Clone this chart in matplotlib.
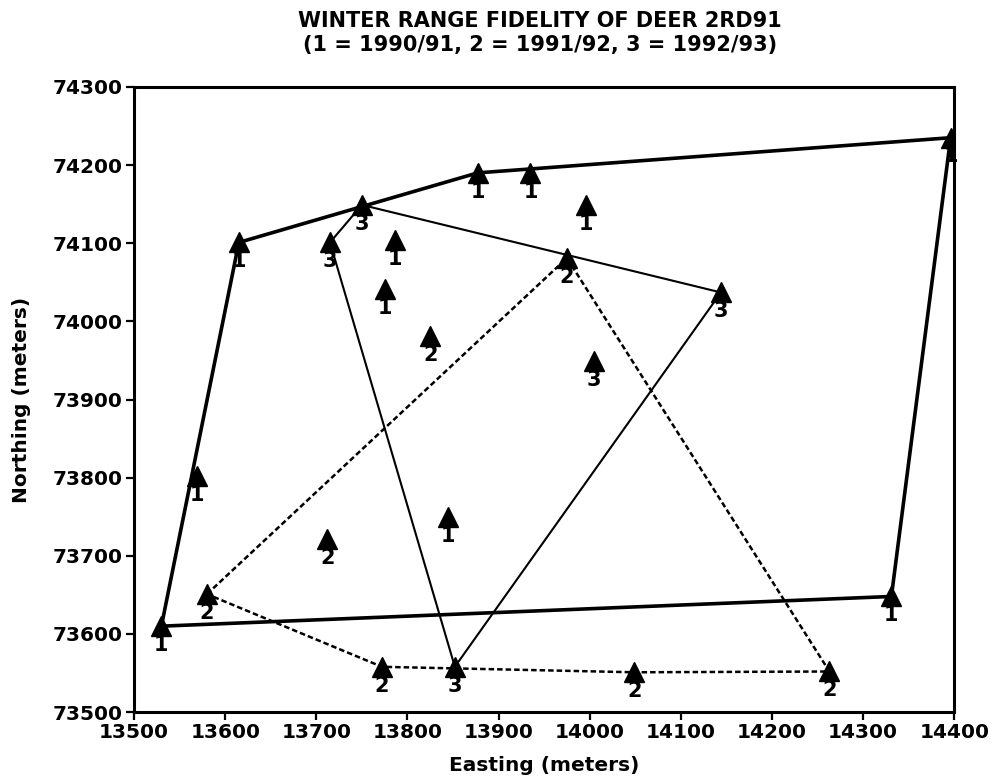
import matplotlib
matplotlib.use("Agg")
import matplotlib.pyplot as plt

# Winter locations (easting, northing in meters), one set per winter
year1_e = [13530, 13569, 13615, 13775, 13786, 13844, 13877, 13935, 13996, 14331, 14396]
year1_n = [73610, 73802, 74101, 74041, 74104, 73750, 74190, 74190, 74149, 73648, 74235]
year1_outline = [0, 2, 6, 10, 9, 0]

year2_e = [13580, 13712, 13772, 13825, 13975, 14049, 14263]
year2_n = [73651, 73721, 73558, 73981, 74081, 73551, 73552]
year2_outline = [0, 4, 6, 5, 2, 0]

year3_e = [13715, 13750, 13852, 14005, 14144]
year3_n = [74101, 74149, 73558, 73949, 74037]
year3_outline = [1, 4, 2, 0, 1]

x_ticks = list(range(13500, 14401, 100))
y_ticks = list(range(73500, 74301, 100))

title_1 = "WINTER RANGE FIDELITY OF DEER 2RD91"
title_2 = "(1 = 1990/91, 2 = 1991/92, 3 = 1992/93)"

plt.rcParams['font.family'] = ['DejaVu Sans']
plt.rcParams['font.weight'] = 'bold'

fig = plt.figure(figsize=(9.93, 7.83), dpi=100)
ax = fig.add_axes([0.135, 0.0905, 0.826, 0.7985])

winters = [
    ("1", year1_e, year1_n, year1_outline, dict(lw=2.6, ls='-')),
    ("2", year2_e, year2_n, year2_outline, dict(lw=1.8, ls=(0, (2.2, 1.2)))),
    ("3", year3_e, year3_n, year3_outline, dict(lw=1.5, ls='-')),
]

for tag, es, ns, outline, style in winters:
    ax.plot([es[i] for i in outline], [ns[i] for i in outline],
            color='black', zorder=2, **style)
    ax.plot(es, ns, ls='none', marker='^', ms=15, color='black', zorder=3)
    for e, n in zip(es, ns):
        ax.annotate(tag, (e, n), xytext=(0, -13.5), textcoords='offset points',
                    ha='center', va='center', fontsize=15, fontweight='heavy',
                    zorder=4)

ax.set_xlim(13500, 14400)
ax.set_ylim(73500, 74300)
ax.set_xticks(x_ticks)
ax.set_yticks(y_ticks)
ax.tick_params(direction='out', length=6, width=1.6, labelsize=14.5, pad=2)
for lab in ax.get_xticklabels() + ax.get_yticklabels():
    lab.set_fontweight('bold')
for sp in ax.spines.values():
    sp.set_linewidth(2.2)

ax.set_xlabel("Easting (meters)", fontsize=14.5, fontweight='bold', labelpad=10)
ax.set_ylabel("Northing (meters)", fontsize=14.5, fontweight='bold', labelpad=16)

fig.text(0.544, 0.973, title_1, ha='center', va='center', fontsize=15, fontweight='bold')
fig.text(0.544, 0.9425, title_2, ha='center', va='center', fontsize=15, fontweight='bold')

fig.savefig("out.png", dpi=100)
